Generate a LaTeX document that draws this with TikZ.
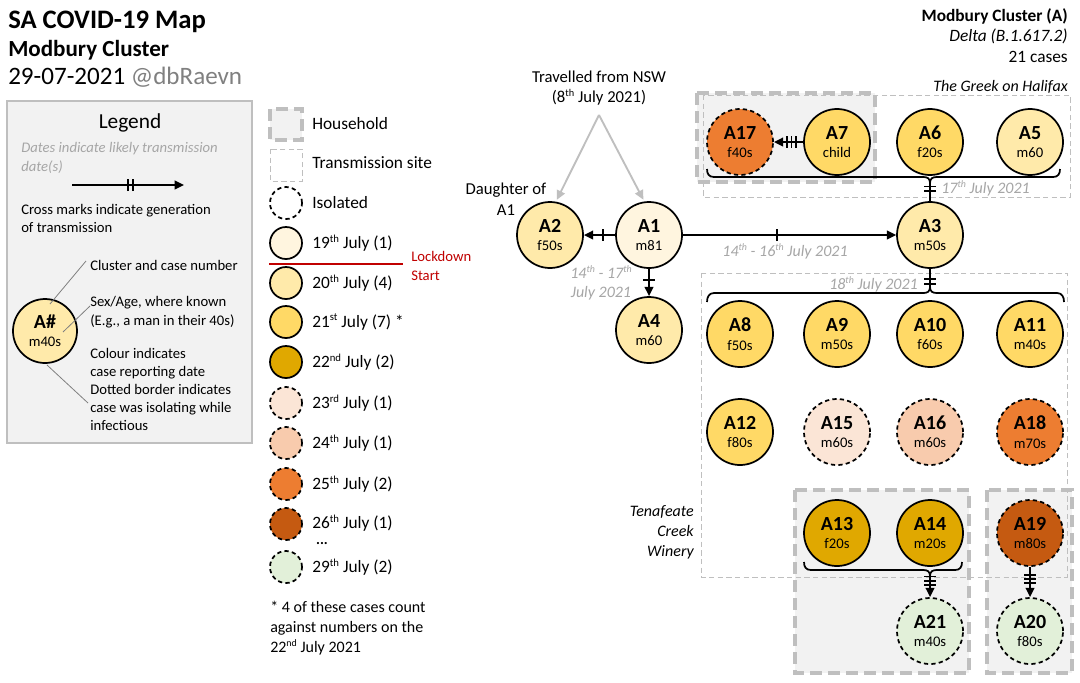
\documentclass[tikz,border=0pt]{standalone}
\usepackage{fontspec}
\usepackage{graphicx}
\setmainfont{Carlito}
\usetikzlibrary{arrows.meta,decorations.markings}
\newcommand\sth[1]{\raisebox{0.38em}{\scalebox{0.62}{#1}}}
\newcommand\cl[2]{{\fontsize{15}{13.8}\selectfont\bfseries #1}\\#2}
\definecolor{c19}{HTML}{FFF5DF}
\definecolor{c20}{HTML}{FFEAAA}
\definecolor{c21}{HTML}{FFD966}
\definecolor{c22}{HTML}{E0A800}
\definecolor{c23}{HTML}{FBE5D6}
\definecolor{c24}{HTML}{F8CBAD}
\definecolor{c25}{HTML}{ED7D31}
\definecolor{c26}{HTML}{C55A11}
\definecolor{c29}{HTML}{E2F0D9}
\definecolor{hhfill}{HTML}{F2F2F2}
\definecolor{dgray}{HTML}{BFBFBF}
\definecolor{tgray}{HTML}{A6A6A6}
\definecolor{hgray}{HTML}{808080}
\definecolor{lred}{HTML}{C00000}
\begin{document}
\begin{tikzpicture}[x=0.75pt,y=-0.75pt,
  case/.style={circle,draw=black,line width=1.3pt,minimum size=49.5pt,inner sep=0pt,align=center,font=\fontsize{11}{13.8}\selectfont},
  iso/.style={case,dash pattern=on 3.2pt off 2.4pt},
  kcase/.style={circle,draw=black,line width=1.3pt,minimum size=24pt,inner sep=0pt},
  kiso/.style={kcase,dash pattern=on 3.2pt off 2.4pt},
  household/.style={draw=dgray,fill=hhfill,line width=3pt,dash pattern=on 9pt off 4.5pt},
  site/.style={draw=dgray,line width=0.75pt,dash pattern=on 4pt off 2.5pt},
  conn/.style={draw,line width=1.4pt,-{Triangle[length=7pt,width=6.5pt]}},
  gconn/.style={draw=dgray,line width=1.4pt,-{Triangle[length=7pt,width=6.5pt]},shorten >=1.5pt},
  plain/.style={draw,line width=1.4pt},
  brace/.style={draw,line width=1.3pt},
  lead/.style={draw=hgray,line width=0.6pt},
  xmk/.style={draw,line width=1.3pt,solid,-},
  xa/.style={postaction={decorate,decoration={markings,mark=at position #1 with {\draw[xmk] (0pt,-4.5pt)--(0pt,4.5pt);}}}},
  xb/.style={postaction={decorate,decoration={markings,mark=at position #1 with {\draw[xmk] (-1.8pt,-4.5pt)--(-1.8pt,4.5pt) (1.8pt,-4.5pt)--(1.8pt,4.5pt);}}}},
  xc/.style={postaction={decorate,decoration={markings,mark=at position #1 with {\draw[xmk] (-3.2pt,-4.5pt)--(-3.2pt,4.5pt) (0pt,-4.5pt)--(0pt,4.5pt) (3.2pt,-4.5pt)--(3.2pt,4.5pt);}}}},
  txt/.style={inner sep=0pt},
  keytxt/.style={txt,anchor=west,font=\fontsize{13}{15.6}\selectfont},
  legtxt/.style={txt,anchor=west,align=left,font=\fontsize{11}{13.5}\selectfont},
  edgetxt/.style={txt,text=tgray,font=\fontsize{12}{14}\selectfont\itshape},
  bodytxt/.style={txt,align=center,font=\fontsize{12.5}{15.5}\selectfont},
]
\fill[white] (0,0) rectangle (1080,682);
\useasboundingbox (0,0) rectangle (1080,682);

% ---------- titles ----------
\node[txt,anchor=west,font=\fontsize{20}{24}\selectfont\bfseries] (title) at (8,22) {SA COVID-19 Map};
\node[txt,anchor=west,font=\fontsize{17.3}{20}\selectfont\bfseries] (subtitle) at (8,50) {Modbury Cluster};
\node[txt,anchor=west,font=\fontsize{18.8}{22}\selectfont] (date) at (8,77) {29-07-2021 \textcolor{hgray}{@dbRaevn}};
\node[txt,anchor=east,font=\fontsize{13}{15}\selectfont\bfseries] (h1) at (1068,16) {Modbury Cluster (A)};
\node[txt,anchor=east,font=\fontsize{13}{15}\selectfont\itshape] (h2) at (1068,36) {Delta (B.1.617.2)};
\node[txt,anchor=east,font=\fontsize{13}{15}\selectfont] (h3) at (1068,57) {21 cases};

% ---------- legend box ----------
\draw[draw=dgray,fill=hhfill,line width=1.5pt] (7,101) rectangle (252,443);
\node[txt,font=\fontsize{16}{19}\selectfont] (legtitle) at (130,123) {Legend};
\node[legtxt,text=tgray,font=\fontsize{11}{14.2}\selectfont\itshape] (legdates) at (21,158) {Dates indicate likely transmission\\date(s)};
\coordinate (la) at (72,185);
\coordinate (lb) at (184,185);
\draw[conn,xb=0.52] (la) -- (lb);
\node[legtxt] (legcross) at (21,218) {Cross marks indicate generation\\of transmission};
\node[case,fill=c20,minimum size=48pt] (Ah) at (45,331) {\cl{A\#}{m40s}};
\node[legtxt] (leg1) at (90,265) {Cluster and case number};
\node[legtxt,font=\fontsize{11}{14.5}\selectfont] (leg2) at (90,312) {Sex/Age, where known\\(E.g., a man in their 40s)};
\node[legtxt] (leg3) at (90,389) {Colour indicates\\case reporting date\\Dotted border indicates\\case was isolating while\\infectious};
\coordinate (l1a) at (50,304); \coordinate (l1b) at (86,261);
\coordinate (l2a) at (63,332); \coordinate (l2b) at (90,306);
\coordinate (l3a) at (47,365); \coordinate (l3b) at (88,403);
\draw[lead] (l1a) -- (l1b);
\draw[lead] (l2a) -- (l2b);
\draw[lead] (l3a) -- (l3b);

% ---------- key column ----------
\draw[household] (270,109) rectangle (302,140);
\node[keytxt] (kh) at (312,124) {Household};
\draw[site] (270,149) rectangle (302,181);
\node[keytxt] (ks) at (312,163) {Transmission site};
\node[kiso] (kiso) at (286,203) {};
\node[keytxt] (kisot) at (312,203) {Isolated};
\node[kcase,fill=c19] (k19) at (286,243) {};
\node[keytxt] (k19t) at (312,243) {19\sth{th} July (1)};
\coordinate (lda) at (269,264); \coordinate (ldb) at (403,264);
\draw[lred,line width=0.8pt] (lda) -- (ldb);
\node[txt,anchor=west,align=left,text=lred,font=\fontsize{11}{14.2}\selectfont] (lock) at (411,266) {Lockdown\\Start};
\node[kcase,fill=c20] (k20) at (286,283) {};
\node[keytxt] (k20t) at (312,283) {20\sth{th} July (4)};
\node[kcase,fill=c21] (k21) at (286,322) {};
\node[keytxt] (k21t) at (312,322) {21\sth{st} July (7) *};
\node[kcase,fill=c22] (k22) at (286,362) {};
\node[keytxt] (k22t) at (312,362) {22\sth{nd} July (2)};
\node[kiso,fill=c23] (k23) at (286,403) {};
\node[keytxt] (k23t) at (312,403) {23\sth{rd} July (1)};
\node[kiso,fill=c24] (k24) at (286,443) {};
\node[keytxt] (k24t) at (312,443) {24\sth{th} July (1)};
\node[kiso,fill=c25] (k25) at (286,484) {};
\node[keytxt] (k25t) at (312,484) {25\sth{th} July (2)};
\node[kiso,fill=c26] (k26) at (286,524) {};
\node[keytxt] (k26t) at (312,523) {26\sth{th} July (1)};
\node[txt,font=\fontsize{11}{12}\selectfont\bfseries] (kdots) at (322,544) {...};
\node[kiso,fill=c29] (k29) at (286,567) {};
\node[keytxt] (k29t) at (312,567) {29\sth{th} July (2)};
\node[txt,anchor=west,align=left,font=\fontsize{12}{15}\selectfont] (foot) at (270,628) {* 4 of these cases count\\against numbers on the\\22\sth{nd} July 2021};

% ---------- households and sites ----------
\draw[household] (697,93) rectangle (875,182);
\draw[household] (795,490) rectangle (969,673);
\draw[household] (987,490) rectangle (1072,673);
\draw[site] (703,95) rectangle (1070,197);
\draw[site] (701,273) rectangle (1067,577);
\node[txt,anchor=east,font=\fontsize{12}{14}\selectfont\itshape] (greek) at (1068,87) {The Greek on Halifax};
\node[txt,anchor=east,align=right,font=\fontsize{12}{15}\selectfont\itshape] (winery) at (694,532) {Tenafeate\\Creek\\Winery};

% ---------- cases ----------
\node[case,fill=c19] (A1) at (649,235) {\cl{A1}{m81}};
\node[case,fill=c20] (A2) at (550,235) {\cl{A2}{f50s}};
\node[case,fill=c20] (A3) at (930,235) {\cl{A3}{m50s}};
\node[case,fill=c20] (A4) at (649,330) {\cl{A4}{m60}};
\node[case,fill=c20] (A5) at (1030,142) {\cl{A5}{m60}};
\node[case,fill=c21] (A6) at (930,142) {\cl{A6}{f20s}};
\node[case,fill=c21] (A7) at (837,142) {\cl{A7}{child}};
\node[iso,fill=c25] (A17) at (740,142) {\cl{A17}{f40s}};
\node[case,fill=c21] (A8) at (740,334) {\cl{A8}{f50s}};
\node[case,fill=c21] (A9) at (837,334) {\cl{A9}{m50s}};
\node[case,fill=c21] (A10) at (930,334) {\cl{A10}{f60s}};
\node[case,fill=c21] (A11) at (1030,334) {\cl{A11}{m40s}};
\node[case,fill=c21] (A12) at (740,432) {\cl{A12}{f80s}};
\node[iso,fill=c23] (A15) at (837,432) {\cl{A15}{m60s}};
\node[iso,fill=c24] (A16) at (930,432) {\cl{A16}{m60s}};
\node[iso,fill=c25] (A18) at (1030,432) {\cl{A18}{m70s}};
\node[case,fill=c22] (A13) at (837,533) {\cl{A13}{f20s}};
\node[case,fill=c22] (A14) at (930,533) {\cl{A14}{m20s}};
\node[iso,fill=c26] (A19) at (1030,533) {\cl{A19}{m80s}};
\node[iso,fill=c29] (A21) at (930,631) {\cl{A21}{m40s}};
\node[iso,fill=c29] (A20) at (1030,631) {\cl{A20}{f80s}};

% ---------- NSW ----------
\node[bodytxt] (nsw) at (599,88) {Travelled from NSW\\(8\sth{th} July 2021)};
\coordinate (nswp) at (599,115);
\draw[gconn] (nswp) -- (A2.80);
\draw[gconn] (nswp) -- (A1.98);
\node[bodytxt] (daughter) at (506,199) {Daughter of\\A1};

% ---------- braces ----------
\coordinate (bg) at (930,183);
\draw[brace] (707,169) .. controls (707,174) and (709,177) .. (714,177) -- (923,177) .. controls (927,177) and (930,178) .. (bg) .. controls (930,178) and (933,177) .. (937,177) -- (1053,177) .. controls (1058,177) and (1060,174) .. (1060,169);
\coordinate (b18) at (930,287);
\draw[brace] (707,302) .. controls (707,297) and (709,293) .. (714,293) -- (923,293) .. controls (927,293) and (930,292) .. (b18) .. controls (930,292) and (933,293) .. (937,293) -- (1057,293) .. controls (1062,293) and (1064,297) .. (1064,302);
\coordinate (bw) at (930,576);
\draw[brace] (804,562) .. controls (804,567) and (806,570) .. (811,570) -- (923,570) .. controls (927,570) and (930,571) .. (bw) .. controls (930,571) and (933,570) .. (937,570) -- (955,570) .. controls (960,570) and (962,567) .. (962,562);

% ---------- transmissions ----------
\draw[conn,xa=0.38] (A1) -- (A2);
\draw[conn,xa=0.44] (A1) -- (A3);
\draw[conn,xa=0.42] (A1) -- (A4);
\draw[plain,xb=0.68] (A3) -- (bg);
\draw[plain,xb=0.7] (A3) -- (b18);
\draw[conn,xc=0.4] (A7) -- (A17);
\draw[conn,xc=0.22] (bw) -- (A21);
\draw[conn,xc=0.4] (A19) -- (A20);

% ---------- edge labels ----------
\node[edgetxt] (e13) at (785,251) {14\sth{th} - 16\sth{th} July 2021};
\node[edgetxt,align=center] (e14) at (601,283) {14\sth{th} - 17\sth{th}\\July 2021};
\node[edgetxt,anchor=west] (e17) at (941,188) {17\sth{th} July 2021};
\node[edgetxt,anchor=east] (e18) at (918,284) {18\sth{th} July 2021};
\end{tikzpicture}
\end{document}
